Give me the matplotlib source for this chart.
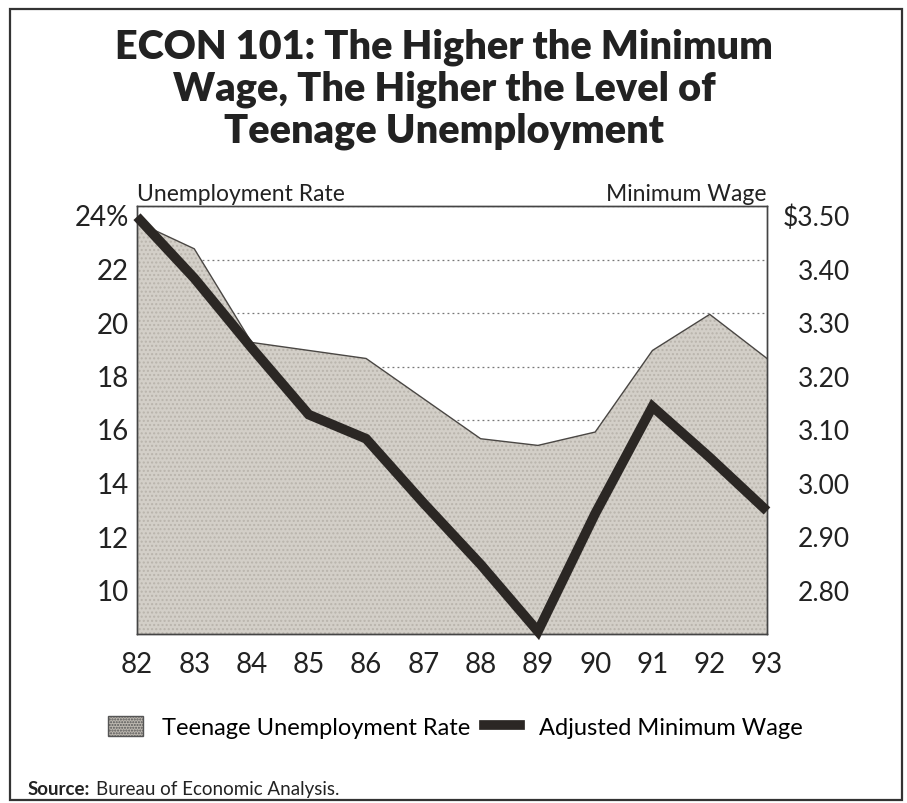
import matplotlib
matplotlib.use("Agg")
import matplotlib.pyplot as plt
from matplotlib.patches import Patch, Rectangle
from matplotlib.lines import Line2D
from matplotlib.transforms import ScaledTranslation

years = [82, 83, 84, 85, 86, 87, 88, 89, 90, 91, 92, 93]
year_labels = ["82", "83", "84", "85", "86", "87", "88", "89", "90", "91", "92", "93"]
unemployment = [23.4, 22.4, 18.9, 18.6, 18.3, 16.8, 15.3, 15.05, 15.55, 18.6, 19.95, 18.3]
min_wage = [3.48, 3.365, 3.235, 3.11, 3.065, 2.945, 2.83, 2.705, 2.925, 3.125, 3.03, 2.93]

left_ticks = [24, 22, 20, 18, 16, 14, 12, 10]
left_labels = ["24%", "22", "20", "18", "16", "14", "12", "10"]
right_ticks = [3.5, 3.4, 3.3, 3.2, 3.1, 3.0, 2.9, 2.8]
right_labels = ["$3.50", "3.40", "3.30", "3.20", "3.10", "3.00", "2.90", "2.80"]

title = "ECON 101: The Higher the Minimum\nWage, The Higher the Level of\nTeenage Unemployment"

plt.rcParams["font.family"] = ["Lato", "DejaVu Sans"]

W, H = 907, 804
fig = plt.figure(figsize=(W / 100, H / 100), dpi=100)
ax = fig.add_axes([137 / W, 1 - 635 / H, (767 - 137) / W, (635 - 207) / H])
ax2 = ax.twinx()

fill_col = "#d3cfc8"
ax.fill_between(years, unemployment, 8, facecolor=fill_col, edgecolor="#b9b4ac",
                hatch="....", linewidth=0, zorder=2)
ax.plot(years, unemployment, color="#4a4744", lw=1.0, zorder=3)
ax.set_xlim(82, 93)
ax.set_ylim(8, 24)
ax.set_axisbelow(True)
ax.yaxis.grid(True, ls=(0, (1.5, 2.5)), color="#777777", lw=0.9)

ax2.plot(years, min_wage, color="#2b2724", lw=7, solid_joinstyle="miter",
         solid_capstyle="butt", clip_on=False, zorder=5)
ax2.set_ylim(2.70, 3.50)

for a in (ax, ax2):
    for s in a.spines.values():
        s.set_color("#444444")
        s.set_linewidth(1.0)
    a.tick_params(length=0)

ax.set_xticks(years)
ax.set_xticklabels(year_labels, fontsize=20, color="#222222")
ax.tick_params(axis="x", pad=12)

off = ScaledTranslation(0, -0.09, fig.dpi_scale_trans)
ax.set_yticks(left_ticks)
ax.set_yticklabels(left_labels, fontsize=20, color="#222222")
ax.tick_params(axis="y", pad=6)
for lab in ax.get_yticklabels():
    lab.set_transform(lab.get_transform() + off)

ax2.set_yticks(right_ticks)
ax2.set_yticklabels(right_labels, fontsize=19, color="#222222")
ax2.tick_params(axis="y", pad=60)
for lab in ax2.get_yticklabels():
    lab.set_horizontalalignment("right")
    lab.set_transform(lab.get_transform() + off)

ax.text(0.0, 1.005, "Unemployment Rate", transform=ax.transAxes, ha="left",
        va="bottom", fontsize=16.5, color="#222222")
ax.text(1.0, 1.005, "Minimum Wage", transform=ax.transAxes, ha="right",
        va="bottom", fontsize=16.5, color="#222222")

fig.text(444 / W, 1 - 89 / H, title, ha="center", va="center", fontsize=28.5,
         fontweight="heavy", linespacing=1.15, color="#222222")

handles = [Patch(facecolor="#bdb8b0", edgecolor="#555555", hatch="......", lw=1.0),
           Line2D([0], [0], color="#2b2724", lw=7)]
fig.legend(handles, ["Teenage Unemployment Rate", "Adjusted Minimum Wage"],
           loc="center", bbox_to_anchor=(455 / W, 1 - 728 / H), ncol=2,
           frameon=False, fontsize=17, handlelength=1.5, handleheight=0.9,
           handletextpad=0.8, columnspacing=0.6)

fig.text(28 / W, 1 - 790 / H, "Source:", fontsize=13.5, fontweight="bold",
         ha="left", va="center", color="#222222")
fig.text(96 / W, 1 - 790 / H, "Bureau of Economic Analysis.", fontsize=13.5,
         ha="left", va="center", color="#222222")

fig.add_artist(Rectangle((10 / W, 3 / H), (902 - 10) / W, (801 - 10) / H,
                         transform=fig.transFigure, fill=False,
                         edgecolor="#333333", lw=1.6))

fig.savefig("out.png", dpi=100)
